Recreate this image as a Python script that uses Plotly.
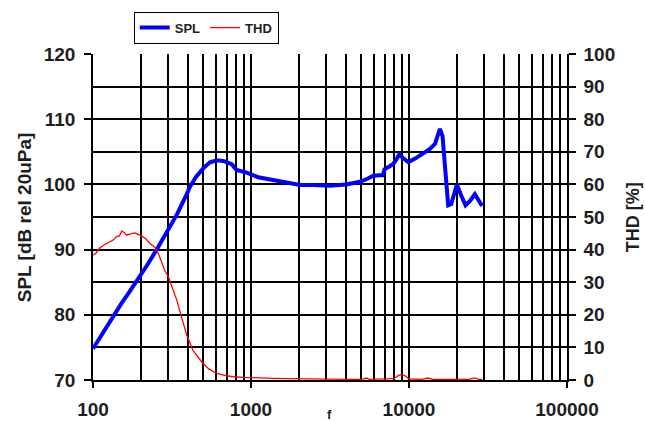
import plotly.graph_objects as go

# ---- data ----
spl_f = [100, 110, 120, 135, 150, 170, 195, 220, 250, 280, 300, 340, 392, 410, 450,
         500, 550, 607, 668, 755, 810, 880, 940, 1110, 1380, 1765, 2040, 2500,
         3160, 4000, 4890, 5500, 5900, 6400, 6830, 7000, 7400, 7920, 8300, 8660,
         9200, 9900, 11000, 12300, 13500, 14600, 15700, 16300, 17000, 17700,
         18500, 19300, 20100, 21400, 22800, 24400, 26100, 27500, 29000]
spl_db = [74.8, 76.4, 77.8, 80.0, 81.6, 83.5, 85.6, 87.6, 89.8, 91.8, 93.1, 95.4, 98.5,
          99.6, 101.2, 102.5, 103.4, 103.7, 103.6, 103.1, 102.2, 102.0, 101.8, 101.1,
          100.7, 100.3, 99.9, 99.9, 99.8, 100.0, 100.4, 100.9, 101.3, 101.4, 101.4,
          102.3, 102.6, 103.1, 103.8, 104.6, 104.0, 103.4, 104.0, 104.8, 105.4, 106.2,
          108.5, 107.4, 101.5, 96.8, 97.0, 98.8, 100.0, 98.3, 96.8, 97.5, 98.5, 97.6, 96.7]

thd_f = [100, 104, 110, 118, 128, 135, 141, 147, 152, 158, 163, 170, 178, 184, 192,
         203, 215, 229, 240, 250, 262, 272, 285, 300, 318, 339, 365, 392, 430, 487,
         540, 607, 680, 770, 900, 1100, 1400, 1800, 2200, 2600, 3000, 4000, 5000,
         5400, 5600, 6000, 7000, 8000, 8600, 9000, 9500, 10000, 12000, 13200, 14000,
         18000, 24000, 25500, 26500, 27500, 29000]
thd_pct = [38.3, 38.8, 40.4, 41.5, 42.4, 43.0, 44.0, 44.2, 45.7, 45.2, 44.5, 44.8, 45.0,
           45.1, 44.8, 44.2, 43.4, 41.9, 41.2, 40.4, 38.2, 35.8, 33.5, 31.7, 28.0, 24.5,
           19.0, 13.8, 9.0, 5.6, 3.4, 2.0, 1.4, 1.0, 0.8, 0.6, 0.5, 0.4, 0.3, 0.2, 0.2,
           0.2, 0.2, 0.6, 0.2, 0.2, 0.2, 0.4, 1.4, 1.8, 1.2, 0.3, 0.2, 0.6, 0.2, 0.2,
           0.2, 0.6, 0.6, 0.2, 0.2]

x_major = [100, 1000, 10000, 100000]
x_major_labels = ["100", "1000", "10000", "100000"]
x_minor = [m * d for d in (100, 1000, 10000) for m in range(2, 10)]

FONT = "Liberation Sans, Arial, sans-serif"
TXT = "#1e1e1e"

fig = go.Figure()
fig.add_trace(go.Scatter(x=spl_f, y=spl_db, mode="lines", name="SPL",
                         line=dict(color="#0000FF", width=4)))
fig.add_trace(go.Scatter(x=thd_f, y=thd_pct, mode="lines", name="THD",
                         line=dict(color="#FF0000", width=1.3), yaxis="y2"))

fig.update_layout(
    width=645, height=421,
    margin=dict(l=93, r=78, t=54, b=41, autoexpand=False),
    paper_bgcolor="white", plot_bgcolor="white",
    font=dict(family=FONT, color=TXT, size=18, weight="bold"),
    showlegend=True,
    legend=dict(orientation="h", x=0.086, y=1.13, xanchor="left", yanchor="top",
                bordercolor="black", borderwidth=1, bgcolor="white",
                font=dict(size=13, family=FONT, weight="bold", color=TXT),
                itemwidth=30, tracegroupgap=0),
    xaxis=dict(type="log", range=[2, 5], tickvals=x_major, ticktext=x_major_labels,
               ticks="outside", ticklen=6, tickcolor="black", tickwidth=1.5,
               ticklabelstandoff=5, automargin=False,
               tickfont=dict(size=19, family=FONT, weight="bold", color=TXT),
               showgrid=True, gridcolor="black", gridwidth=1.5,
               showline=True, linecolor="black", linewidth=1.5,
               minor=dict(tickmode="array", tickvals=x_minor, showgrid=True,
                          gridcolor="black", gridwidth=1.5, ticks=""),
               zeroline=False),
    yaxis=dict(range=[70, 120], dtick=10, tick0=70,
               ticks="outside", ticklen=7, tickcolor="black", tickwidth=1.5,
               ticklabelstandoff=5, automargin=False,
               tickfont=dict(size=19, family=FONT, weight="bold", color=TXT),
               showgrid=True, gridcolor="black", gridwidth=1.5,
               showline=True, linecolor="black", linewidth=1.5,
               minor=dict(dtick=5, showgrid=True, gridcolor="black", gridwidth=1.5),
               zeroline=False),
    yaxis2=dict(range=[0, 100], dtick=10, overlaying="y", side="right",
                ticks="outside", ticklen=7, tickcolor="black", tickwidth=1.5,
                ticklabelstandoff=4, automargin=False, showgrid=False,
                tickfont=dict(size=19, family=FONT, weight="bold", color=TXT),
                showline=True, linecolor="black", linewidth=1.5, zeroline=False),
    annotations=[
        dict(text="SPL [dB rel 20uPa]", xref="paper", yref="paper", x=-0.145, y=0.5,
             textangle=-90, showarrow=False, xanchor="center", yanchor="middle",
             font=dict(size=19, family=FONT, weight="bold", color=TXT)),
        dict(text="THD [%]", xref="paper", yref="paper", x=1.14, y=0.5,
             textangle=-90, showarrow=False, xanchor="center", yanchor="middle",
             font=dict(size=18, family=FONT, weight="bold", color=TXT)),
        dict(text="f", xref="paper", yref="paper", x=0.498, y=-0.105,
             showarrow=False, xanchor="center", yanchor="middle",
             font=dict(size=13, family=FONT, weight="bold", color=TXT)),
    ],
)

fig.write_html("out.html", config={"displayModeBar": False},
               post_script="document.body.style.margin='0px';")
